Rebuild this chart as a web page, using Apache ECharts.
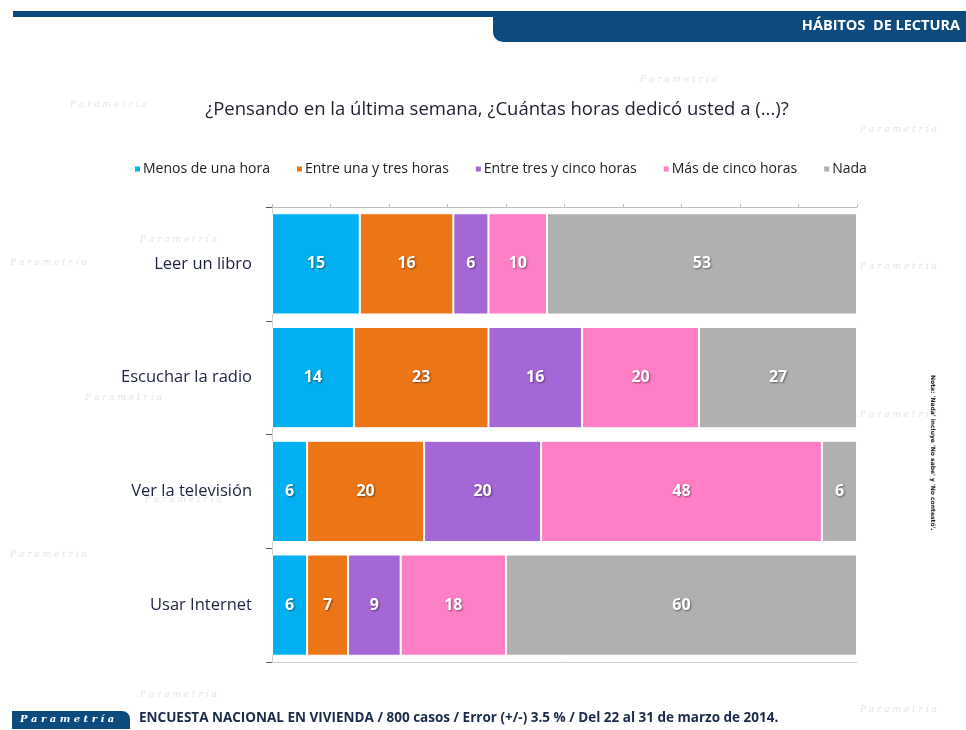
<!DOCTYPE html>
<html>
<head>
<meta charset="utf-8">
<script src="https://cdn.jsdelivr.net/npm/echarts@6/dist/echarts.min.js"></script>
<style>
  html, body { margin: 0; padding: 0; background: #fff; }
  #chart { width: 966px; height: 730px; }
</style>
</head>
<body>
<div id="chart"></div>
<script>
// categorías (de arriba hacia abajo)
var categorias = ["Leer un libro", "Escuchar la radio", "Ver la televisión", "Usar Internet"];
var serieNombres = ["Menos de una hora", "Entre una y tres horas", "Entre tres y cinco horas", "Más de cinco horas", "Nada"];
var menosUna = [15, 14, 6, 6];
var unaTres = [16, 23, 20, 7];
var tresCinco = [6, 16, 20, 9];
var masCinco = [10, 20, 48, 18];
var nada = [53, 27, 6, 60];
var colores = ["#00B0F0", "#EC7616", "#A566D6", "#FF7FC7", "#B0B0B0"];

var chart = echarts.init(document.getElementById("chart"));

var valores = [menosUna, unaTres, tresCinco, masCinco, nada];

// marcas de agua de fondo
var marcas = [];
[[70, 100], [640, 75], [140, 235], [860, 125], [10, 258], [860, 262], [85, 393], [860, 410], [145, 495], [10, 550], [140, 690], [860, 705]].forEach(function (p) {
  marcas.push({
    type: "text", left: p[0], top: p[1], silent: true, z: -10,
    style: { text: "P a r a m e t r í a", fill: "#dfe6ee", font: "italic 9px 'DejaVu Serif'" }
  });
});

chart.setOption({
  backgroundColor: "#ffffff",
  animation: false,
  textStyle: { fontFamily: "'Open Sans', 'Noto Sans', sans-serif" },
  title: {
    text: "¿Pensando en la última semana, ¿Cuántas horas dedicó usted a (...)?",
    left: 492,
    textAlign: "center",
    top: 95,
    textStyle: { fontSize: 18.5, fontWeight: "normal", color: "#1f1f2f", fontFamily: "'Open Sans', sans-serif" }
  },
  legend: {
    top: 157,
    left: 128,
    itemWidth: 7,
    itemHeight: 7,
    itemGap: 25,
    icon: "rect",
    textStyle: { fontSize: 14, color: "#222", padding: [0, 0, 0, -3] },
    data: serieNombres
  },
  grid: { left: 272, right: 109, top: 207, bottom: 68 },
  xAxis: [
    {
      type: "value", position: "top", min: 0, max: 100, interval: 10,
      axisLine: { show: true, lineStyle: { color: "#bdbdbd" } },
      axisTick: { show: true, inside: false, length: 3, lineStyle: { color: "#bdbdbd" } },
      axisLabel: { show: false },
      splitLine: { show: false }
    },
    {
      type: "value", position: "bottom", min: 0, max: 100, interval: 10,
      axisLine: { show: true, lineStyle: { color: "#cfcfcf" } },
      axisTick: { show: false },
      axisLabel: { show: false },
      splitLine: { show: false }
    }
  ],
  yAxis: {
    type: "category",
    inverse: true,
    data: categorias,
    axisLine: { show: true, lineStyle: { color: "#d0d0d0" } },
    axisTick: { show: true, length: 6, lineStyle: { color: "#555" } },
    axisLabel: { fontSize: 16.5, color: "#1c2340", margin: 20 }
  },
  series: valores.map(function (v, i) {
    return {
      name: serieNombres[i],
      type: "bar",
      stack: "total",
      xAxisIndex: 0,
      data: v,
      barCategoryGap: "11%",
      itemStyle: { color: colores[i], borderColor: "#ffffff", borderWidth: 1 },
      label: {
        show: true,
        position: "inside",
        color: "#ffffff",
        fontSize: 16,
        fontWeight: "bold",
        textShadowColor: "rgba(0,0,0,0.45)",
        textShadowBlur: 2,
        textShadowOffsetX: 1,
        textShadowOffsetY: 1
      }
    };
  }),
  graphic: marcas.concat([
    // línea superior
    { type: "rect", shape: { x: 13, y: 11, width: 953, height: 6 }, style: { fill: "#0d4a7e" }, silent: true },
    // banda del encabezado
    { type: "rect", shape: { x: 493, y: 11, width: 473, height: 31, r: [0, 0, 0, 10] }, style: { fill: "#0d4a7e" }, silent: true },
    {
      type: "text", right: 6, top: 18,
      style: { text: "HÁBITOS  DE LECTURA", fill: "#ffffff", font: "bold 14.5px 'Open Sans', sans-serif", textAlign: "right" }
    },
    // nota vertical
    {
      type: "text", left: 930, top: 375, rotation: -Math.PI / 2,
      style: { text: "Nota: 'Nada' incluye 'No sabe' y 'No contestó'.", fill: "#222", font: "bold 6px 'DejaVu Sans', sans-serif" }
    },
    // pie de página
    { type: "rect", shape: { x: 12, y: 711, width: 118, height: 18, r: [0, 8, 0, 0] }, style: { fill: "#0d4a7e" }, silent: true },
    {
      type: "text", left: 20, top: 714,
      style: { text: "P a r a m e t r í a", fill: "#ffffff", font: "italic bold 10px 'DejaVu Serif', serif" }
    },
    {
      type: "text", left: 139, top: 711,
      style: { text: "ENCUESTA NACIONAL EN VIVIENDA / 800 casos / Error (+/-) 3.5 % / Del 22 al 31 de marzo de 2014.", fill: "#1a2a4a", font: "bold 13.5px 'Open Sans', sans-serif" }
    }
  ])
});
</script>
</body>
</html>
